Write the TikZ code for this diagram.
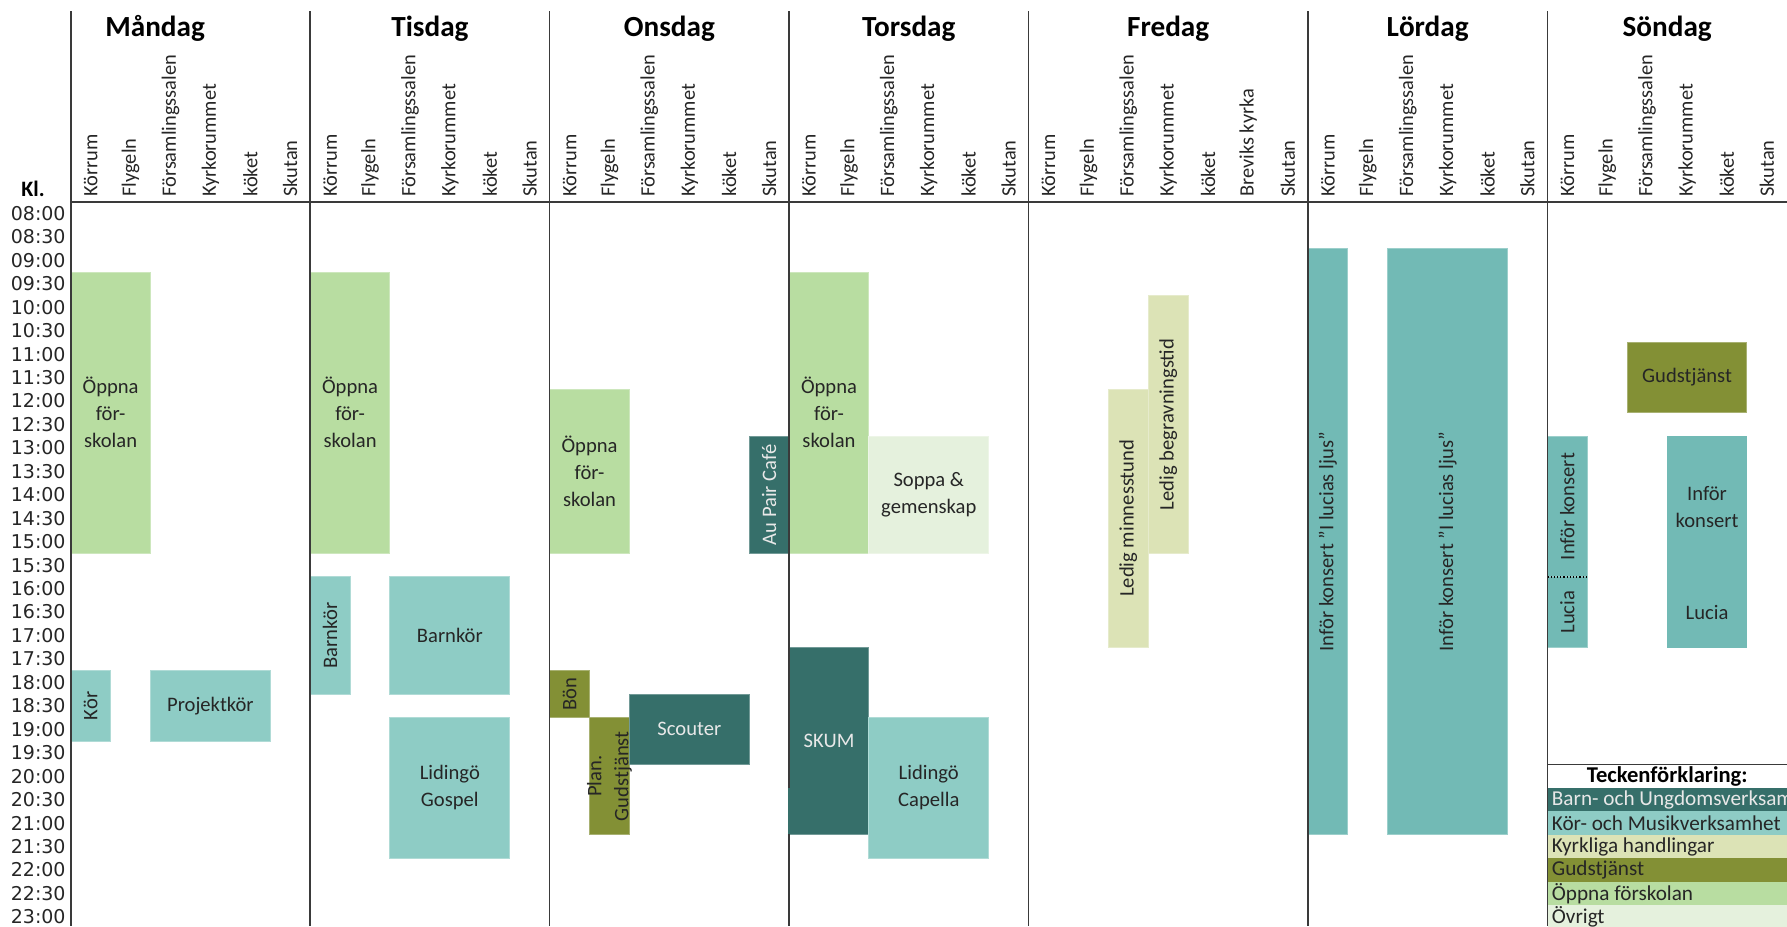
\documentclass[tikz,border=0pt]{standalone}
\usepackage{fontspec}
\setmainfont{Carlito}
\newfontfamily\timefont{DejaVu Sans}
\definecolor{cBarn}{HTML}{366F6A}
\definecolor{cKor}{HTML}{8ECCC5}
\definecolor{cKorD}{HTML}{72BAB5}
\definecolor{cKyrk}{HTML}{DCE3B6}
\definecolor{cGuds}{HTML}{839035}
\definecolor{cOppna}{HTML}{B8DDA1}
\definecolor{cOvr}{HTML}{E5F1DD}
\definecolor{cLine}{HTML}{3A3A3A}
\definecolor{cTxt}{HTML}{262626}
\definecolor{cLight}{HTML}{E8E8E8}
\newcommand{\evbox}[7]{\node[evt,#6,minimum width={#3*19.955pt},minimum height={#5*11.725pt}] (#1) at ({70.7+(#2+#3/2)*39.91},{201.7+(#4+#5/2)*23.45}) {#7};}
\newcommand{\evvbox}[7]{\node[evt,#6,rotate=90,minimum width={#5*11.725pt},minimum height={#3*19.955pt}] (#1) at ({70.7+(#2+#3/2)*39.91},{201.7+(#4+#5/2)*23.45}) {#7};}
\begin{document}
\begin{tikzpicture}[x=0.5pt,y=-0.5pt,
  evt/.style={rectangle,inner sep=0pt,outer sep=0pt,line width=0.5pt,font=\fontsize{10.3}{13.5}\selectfont,text=cTxt,align=center},
  oppna/.style={fill=cOppna,draw=cOppna!70!white},
  kor/.style={fill=cKor,draw=cKor!70!white},
  korD/.style={fill=cKorD,draw=cKorD!70!white},
  barn/.style={fill=cBarn,draw=cBarn!70!white,text=cLight},
  guds/.style={fill=cGuds,draw=cGuds!70!white},
  kyrk/.style={fill=cKyrk,draw=cKyrk!70!white},
  ovr/.style={fill=cOvr,draw=cOvr!70!white},
  gridline/.style={cLine,line width=0.85pt},
  colhead/.style={rotate=90,anchor=west,inner sep=0pt,font=\fontsize{10.2}{12}\selectfont,text=cTxt},
  dayname/.style={inner sep=0pt,font=\fontsize{14.6}{17}\selectfont\bfseries,text=black},
  timelbl/.style={anchor=east,inner sep=0pt,font=\timefont\fontsize{9.5}{11}\selectfont,text=cTxt},
  legbox/.style={rectangle,inner sep=0pt,draw=none,minimum width=119.8pt,minimum height=11.725pt},
  legtxt/.style={anchor=west,inner sep=0pt,font=\fontsize{10.6}{12}\selectfont},
]
\useasboundingbox (0,0) rectangle (1787,926);
\fill[white] (0,0) rectangle (1787,926);

% day names
\node[dayname] (dMan) at (155.1,28.5) {Måndag};
\node[dayname] (dTis) at (429.9,28.5) {Tisdag};
\node[dayname] (dOns) at (669.35,28.5) {Onsdag};
\node[dayname] (dTor) at (908.8,28.5) {Torsdag};
\node[dayname] (dFre) at (1168.2,28.5) {Fredag};
\node[dayname] (dLor) at (1427.65,28.5) {Lördag};
\node[dayname] (dSon) at (1667.2,28.5) {Söndag};
\node[inner sep=0pt,font=\fontsize{11}{13}\selectfont\bfseries] (kl) at (33,189) {Kl.};

% column headers
\foreach \s in {0,6,12,18,31,37}{
  \foreach \n [count=\i from 0] in {Körrum,Flygeln,Församlingssalen,Kyrkorummet,köket,Skutan}{
    \node[colhead] (h\s-\i) at ({70.7+(\s+\i+0.5)*39.91},197) {\n};
  }
}
\foreach \n [count=\i from 0] in {Körrum,Flygeln,Församlingssalen,Kyrkorummet,köket,Breviks kyrka,Skutan}{
  \node[colhead] (h24-\i) at ({70.7+(24+\i+0.5)*39.91},197) {\n};
}

% time labels
\foreach \k in {0,...,30}{
  \pgfmathtruncatemacro{\hh}{8+floor(\k/2)}
  \pgfmathtruncatemacro{\mm}{mod(\k,2)}
  \node[timelbl] (t\k) at (66,{201.7+(\k+0.5)*23.45}) {\ifnum\hh<10 0\fi\hh:\ifnum\mm=1 30\else 00\fi};
}

% Måndag
\evbox{man1}{0}{2}{3}{12}{oppna}{Öppna\\för-\\skolan}
\evvbox{man2}{0}{1}{20}{3}{kor}{Kör}
\evbox{man3}{2}{3}{20}{3}{kor}{Projektkör}
% Tisdag
\evbox{tis1}{6}{2}{3}{12}{oppna}{Öppna\\för-\\skolan}
\evvbox{tis2}{6}{1}{16}{5}{kor}{Barnkör}
\evbox{tis3}{8}{3}{16}{5}{kor}{Barnkör}
\evbox{tis4}{8}{3}{22}{6}{kor}{Lidingö\\Gospel}
% Onsdag
\evbox{ons1}{12}{2}{8}{7}{oppna}{Öppna\\för-\\skolan}
\evvbox{ons2}{17}{1}{10}{5}{barn}{Au Pair Café}
\evvbox{ons3}{12}{1}{20}{2}{guds}{Bön}
\evbox{ons4}{13}{1}{22}{5}{guds}{}
\node[evt,rotate=90] (ons4t) at (ons4.center) {Plan.\\Gudstjänst};
\evbox{ons5}{14}{3}{21}{3}{barn}{Scouter}
% Torsdag
\evbox{tor1}{18}{2}{3}{12}{oppna}{Öppna\\för-\\skolan}
\evbox{tor2}{20}{3}{10}{5}{ovr}{Soppa \&\\gemenskap}
\evbox{tor3}{18}{2}{19}{8}{barn}{SKUM}
\evbox{tor4}{20}{3}{22}{6}{kor}{Lidingö\\Capella}
% Fredag
\evvbox{fre1}{26}{1}{8}{11}{kyrk}{Ledig minnesstund}
\evvbox{fre2}{27}{1}{4}{11}{kyrk}{Ledig begravningstid}
% Lördag
\evvbox{lor1}{31}{1}{2}{25}{korD}{Inför konsert "I lucias ljus"}
\evvbox{lor2}{33}{3}{2}{25}{korD}{Inför konsert "I lucias ljus"}
% Söndag
\evbox{son1}{39}{3}{6}{3}{guds}{Gudstjänst}
\evvbox{son2}{37}{1}{10}{6}{korD}{Inför konsert}
\evvbox{son3}{37}{1}{16}{3}{korD}{Lucia}
\draw[densely dotted,line width=0.6pt,black] (son2.north west) -- (son2.south west);
\evbox{son4}{40}{2}{10}{6}{korD,draw=cKorD}{Inför\\konsert}
\evbox{son5}{40}{2}{16}{3}{korD,draw=cKorD}{Lucia}

% grid lines
\foreach \c in {0,6,12,18,24,31,37}{
  \draw[gridline] ({70.7+\c*39.91},11) -- ({70.7+\c*39.91},926);
}
\draw[gridline] (70.7,201.7) -- (1787,201.7);
\fill[cBarn] ({70.7+18*39.91-1.3},{201.7+25*23.45}) rectangle ({70.7+18*39.91+1.5},{201.7+27*23.45-0.5});

% legend
\fill[white] (1548.4,764.5) rectangle (1787,926);
\node[inner sep=0pt,font=\fontsize{11.3}{13}\selectfont\bfseries] (legT) at (1667.2,{201.7+24.5*23.45}) {Teckenförklaring:};
\foreach \col/\txt/\tc [count=\r from 25] in {cBarn/Barn- och Ungdomsverksamhet/cLight, cKor/Kör- och Musikverksamhet/cTxt, cKyrk/Kyrkliga handlingar/cTxt, cGuds/Gudstjänst/cTxt, cOppna/Öppna förskolan/cTxt, cOvr/Övrigt/cTxt}{
  \node[legbox,fill=\col] (leg\r) at (1667.7,{201.7+(\r+0.5)*23.45}) {};
  \node[legtxt,text=\tc] (legt\r) at ([xshift=2pt]leg\r.west) {\txt};
}
\draw[gridline] (1547.4,764.5) -- (1787,764.5);
\end{tikzpicture}
\end{document}
